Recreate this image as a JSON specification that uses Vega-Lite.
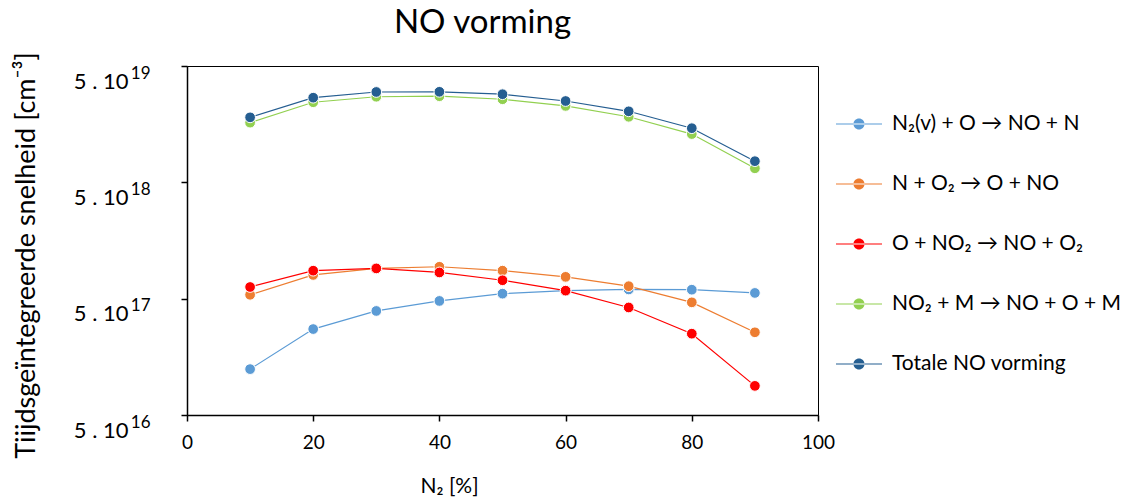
{
  "$schema": "https://vega.github.io/schema/vega-lite/v6.json",
  "width": 631,
  "height": 349,
  "autosize": {"type": "none"},
  "padding": {"left": 187, "top": 66, "right": 305, "bottom": 84},
  "background": "white",
  "config": {"font": "Lato", "view": {"stroke": "#000", "strokeWidth": 1}},
  "title": {"text": "NO vorming", "fontSize": 33, "fontWeight": "normal", "color": "#000", "anchor": "middle", "dx": -20, "offset": 12, "font": "Lato"},
  "data": {"values": [
    {"x": 10, "s": "N₂(v) + O → NO + N", "v": 1.24e17},
    {"x": 20, "s": "N₂(v) + O → NO + N", "v": 2.74e17},
    {"x": 30, "s": "N₂(v) + O → NO + N", "v": 3.92e17},
    {"x": 40, "s": "N₂(v) + O → NO + N", "v": 4.78e17},
    {"x": 50, "s": "N₂(v) + O → NO + N", "v": 5.52e17},
    {"x": 60, "s": "N₂(v) + O → NO + N", "v": 5.86e17},
    {"x": 70, "s": "N₂(v) + O → NO + N", "v": 6.0e17},
    {"x": 80, "s": "N₂(v) + O → NO + N", "v": 5.97e17},
    {"x": 90, "s": "N₂(v) + O → NO + N", "v": 5.6e17},
    {"x": 10, "s": "N + O₂ → O + NO", "v": 5.4e17},
    {"x": 20, "s": "N + O₂ → O + NO", "v": 8.0e17},
    {"x": 30, "s": "N + O₂ → O + NO", "v": 9.1e17},
    {"x": 40, "s": "N + O₂ → O + NO", "v": 9.4e17},
    {"x": 50, "s": "N + O₂ → O + NO", "v": 8.7e17},
    {"x": 60, "s": "N + O₂ → O + NO", "v": 7.7e17},
    {"x": 70, "s": "N + O₂ → O + NO", "v": 6.4e17},
    {"x": 80, "s": "N + O₂ → O + NO", "v": 4.65e17},
    {"x": 90, "s": "N + O₂ → O + NO", "v": 2.57e17},
    {"x": 10, "s": "O + NO₂  → NO + O₂", "v": 6.3e17},
    {"x": 20, "s": "O + NO₂  → NO + O₂", "v": 8.7e17},
    {"x": 30, "s": "O + NO₂  → NO + O₂", "v": 9.1e17},
    {"x": 40, "s": "O + NO₂  → NO + O₂", "v": 8.4e17},
    {"x": 50, "s": "O + NO₂  → NO + O₂", "v": 7.2e17},
    {"x": 60, "s": "O + NO₂  → NO + O₂", "v": 5.86e17},
    {"x": 70, "s": "O + NO₂  → NO + O₂", "v": 4.2e17},
    {"x": 80, "s": "O + NO₂  → NO + O₂", "v": 2.5e17},
    {"x": 90, "s": "O + NO₂  → NO + O₂", "v": 8.9e16},
    {"x": 10, "s": "NO₂ + M → NO + O + M", "v": 1.63e19},
    {"x": 20, "s": "NO₂ + M → NO + O + M", "v": 2.44e19},
    {"x": 30, "s": "NO₂ + M → NO + O + M", "v": 2.72e19},
    {"x": 40, "s": "NO₂ + M → NO + O + M", "v": 2.75e19},
    {"x": 50, "s": "NO₂ + M → NO + O + M", "v": 2.59e19},
    {"x": 60, "s": "NO₂ + M → NO + O + M", "v": 2.27e19},
    {"x": 70, "s": "NO₂ + M → NO + O + M", "v": 1.83e19},
    {"x": 80, "s": "NO₂ + M → NO + O + M", "v": 1.30e19},
    {"x": 90, "s": "NO₂ + M → NO + O + M", "v": 6.6e18},
    {"x": 10, "s": "Totale NO vorming", "v": 1.81e19},
    {"x": 20, "s": "Totale NO vorming", "v": 2.67e19},
    {"x": 30, "s": "Totale NO vorming", "v": 2.99e19},
    {"x": 40, "s": "Totale NO vorming", "v": 3.0e19},
    {"x": 50, "s": "Totale NO vorming", "v": 2.86e19},
    {"x": 60, "s": "Totale NO vorming", "v": 2.5e19},
    {"x": 70, "s": "Totale NO vorming", "v": 2.04e19},
    {"x": 80, "s": "Totale NO vorming", "v": 1.46e19},
    {"x": 90, "s": "Totale NO vorming", "v": 7.6e18}
  ]},
  "resolve": {"scale": {"y": "shared"}, "axis": {"y": "independent"}},
  "encoding": {
    "x": {
      "field": "x", "type": "quantitative",
      "scale": {"domain": [0, 100], "nice": false},
      "axis": {
        "values": [0, 20, 40, 60, 80, 100],
        "labelFont": "Lato", "labelFontSize": 19, "labelColor": "#000", "labelPadding": 12, "labelFlush": false,
        "tickSize": 6, "tickColor": "#000", "tickWidth": 1.5, "domainColor": "#000", "domainWidth": 1.5,
        "grid": false,
        "title": "N₂ [%]", "titleFont": "Lato", "titleFontSize": 21, "titleFontWeight": "normal", "titleColor": "#000",
        "titleX": 262, "titleY": 77, "titleAlign": "center", "titleBaseline": "alphabetic", "titleAnchor": null
      }
    }
  },
  "layer": [
    {
      "mark": {"type": "line", "strokeWidth": 1.2},
      "encoding": {
        "y": {
          "field": "v", "type": "quantitative",
          "scale": {"type": "log", "domain": [5e16, 5e19], "nice": false},
          "axis": {
            "orient": "left",
            "values": [5e16, 5e17, 5e18, 5e19],
            "labelExpr": "'5 . 10'",
            "labelFont": "Lato", "labelFontSize": 22, "labelColor": "#000", "labelPadding": 53, "labelOffset": 15, "labelFlush": false, "labelOverlap": false,
            "tickSize": 6, "tickColor": "#000", "tickWidth": 1.5, "domainColor": "#000", "domainWidth": 1.5,
            "grid": false,
            "title": "Tiijdsgeïntegreerde snelheid [cm⁻³]", "titleFont": "Lato", "titleFontSize": 27, "titleFontWeight": "normal", "titleColor": "#000",
            "titleX": -161, "titleY": 189, "titleAngle": -90, "titleAlign": "center", "titleBaseline": "middle", "titleAnchor": null
          }
        },
        "color": {"field": "s", "type": "nominal",
          "scale": {"domain": ["N₂(v) + O → NO + N", "N + O₂ → O + NO", "O + NO₂  → NO + O₂", "NO₂ + M → NO + O + M", "Totale NO vorming"],
                    "range": ["#5B9BD5", "#ED7D31", "#FF0000", "#92D050", "#255E91"]}}
      }
    },
    {
      "mark": {"type": "point", "filled": true, "size": 115, "opacity": 1, "stroke": "white", "strokeWidth": 1},
      "encoding": {
        "y": {
          "field": "v", "type": "quantitative",
          "axis": {
            "orient": "left",
            "values": [5e16, 5e17, 5e18, 5e19],
            "labelExpr": "datum.value >= 4e19 ? '19' : datum.value >= 4e18 ? '18' : datum.value >= 4e17 ? '17' : '16'",
            "labelFont": "Lato", "labelFontSize": 17, "labelColor": "#000", "labelPadding": 37, "labelOffset": 7, "labelFlush": false, "labelOverlap": false,
            "ticks": false, "tickSize": 0, "domain": false, "grid": false, "title": null
          }
        },
        "color": {"field": "s", "type": "nominal",
          "scale": {"domain": ["N₂(v) + O → NO + N", "N + O₂ → O + NO", "O + NO₂  → NO + O₂", "NO₂ + M → NO + O + M", "Totale NO vorming"],
                    "range": ["#5B9BD5", "#ED7D31", "#FF0000", "#92D050", "#255E91"]},
          "legend": {
            "title": null, "orient": "none", "legendX": 649, "legendY": 35,
            "labelFont": "Lato", "labelFontSize": 21, "labelColor": "#000", "labelLimit": 400, "labelOffset": 10,
            "symbolType": "M-1,-0.025H1V0.025H-1Z M-0.24,0A0.24,0.24 0 1,0 0.24,0A0.24,0.24 0 1,0 -0.24,0Z",
            "symbolSize": 2116, "symbolStrokeWidth": 0, "symbolOpacity": 1, "rowPadding": 27
          }
        }
      }
    }
  ]
}
